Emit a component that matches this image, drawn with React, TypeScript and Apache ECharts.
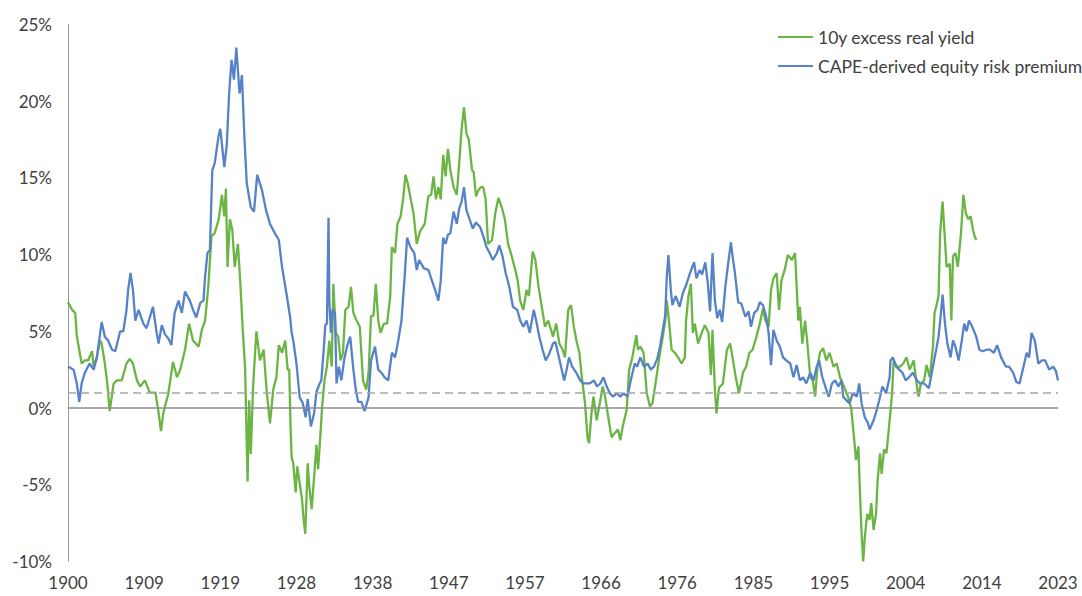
import React, { useEffect, useRef } from "react";
import * as echarts from "echarts";

const SERIES_NAMES = ["10y excess real yield", "CAPE-derived equity risk premium"];
const Y_TICKS = { min: -10, max: 25, step: 5 };
const X_RANGE = { min: 1900, max: 2023.5, step: 9.5 };
const REFERENCE_LEVELS = { zero: 0, dashed: 1 };

const excessRealYield: [number, number][] = [
  [1900.0, 6.9], [1900.5, 6.4], [1900.9, 6.2], [1901.1, 4.7], [1901.4, 3.8], [1901.7, 2.9], [1902.1, 3.1],
  [1902.5, 3.1], [1903.0, 3.7], [1903.2, 2.7], [1903.6, 3.3], [1904.0, 4.4], [1904.2, 4.2], [1904.6, 2.9],
  [1904.9, 1.6], [1905.2, -0.2], [1905.7, 1.6], [1906.1, 1.8], [1906.7, 1.8], [1907.3, 2.9], [1907.7, 3.2],
  [1908.1, 2.9], [1908.6, 1.8], [1909.0, 1.4], [1909.6, 1.8], [1910.2, 1.0], [1910.9, 1.0], [1911.3, -0.3],
  [1911.6, -1.5], [1911.9, -0.3], [1912.5, 0.9], [1913.1, 3.0], [1913.6, 2.0], [1914.0, 2.5], [1914.6, 3.8],
  [1915.1, 5.5], [1915.6, 4.4], [1916.3, 4.0], [1916.7, 5.1], [1917.1, 5.7], [1917.5, 7.9], [1917.9, 11.2],
  [1918.3, 11.4], [1918.8, 12.3], [1919.2, 13.9], [1919.5, 12.5], [1919.7, 14.3], [1919.9, 9.2], [1920.2, 12.3],
  [1920.5, 11.6], [1920.8, 9.2], [1921.2, 10.7], [1921.5, 8.1], [1921.8, 5.1], [1922.1, 2.5], [1922.4, -4.8],
  [1922.6, 0.5], [1922.8, -3.0], [1923.1, 1.5], [1923.5, 5.0], [1923.95, 3.1], [1924.4, 3.8], [1924.8, 1.0],
  [1925.2, -1.0], [1925.6, 1.2], [1926.0, 2.0], [1926.3, 4.1], [1926.7, 3.6], [1927.1, 4.4], [1927.4, 2.5],
  [1927.6, 2.5], [1927.75, -1.0], [1927.9, -3.2], [1928.1, -3.6], [1928.4, -5.5], [1928.6, -3.8], [1929.2, -6.0],
  [1929.4, -7.3], [1929.6, -8.2], [1929.9, -3.6], [1930.1, -5.1], [1930.4, -6.6], [1930.7, -4.5], [1931.0, -2.4],
  [1931.2, -4.0], [1931.5, -1.65], [1931.7, 0.1], [1932.0, 1.8], [1932.3, 2.7], [1932.6, 4.4], [1932.9, 2.7],
  [1933.1, 8.1], [1933.4, 4.9], [1933.7, 4.65], [1934.0, 3.1], [1934.3, 3.6], [1934.6, 6.4], [1935.0, 6.6],
  [1935.3, 7.9], [1935.6, 6.2], [1936.0, 5.7], [1936.4, 5.3], [1936.8, 1.8], [1937.2, 1.2], [1937.5, 2.3],
  [1937.8, 6.0], [1938.1, 6.0], [1938.4, 8.1], [1938.7, 5.7], [1939.0, 4.9], [1939.4, 5.5], [1939.8, 5.5],
  [1940.2, 7.3], [1940.4, 10.5], [1940.8, 10.1], [1941.1, 12.0], [1941.5, 12.5], [1941.8, 13.6], [1942.1, 15.2],
  [1942.4, 14.6], [1942.8, 13.5], [1943.1, 12.7], [1943.5, 10.7], [1943.9, 11.5], [1944.5, 12.0], [1944.95, 13.8],
  [1945.3, 13.9], [1945.6, 15.1], [1945.9, 13.6], [1946.2, 14.4], [1946.5, 13.6], [1946.8, 16.5], [1947.1, 15.1],
  [1947.4, 16.9], [1947.7, 15.5], [1948.1, 14.4], [1948.5, 13.9], [1948.8, 15.95], [1949.1, 18.2], [1949.4, 19.6],
  [1949.7, 17.9], [1950.0, 17.5], [1950.4, 15.5], [1950.6, 15.4], [1950.9, 13.8], [1951.2, 14.2], [1951.5, 14.4],
  [1951.8, 14.4], [1952.1, 13.6], [1952.4, 10.7], [1952.9, 10.95], [1953.3, 12.7], [1953.7, 13.7], [1954.1, 13.1],
  [1954.5, 12.3], [1954.9, 10.7], [1955.35, 9.9], [1955.8, 9.0], [1956.1, 8.3], [1956.4, 7.0], [1956.8, 6.4],
  [1957.2, 7.7], [1957.5, 7.3], [1957.97, 10.2], [1958.3, 9.65], [1958.7, 7.9], [1959.1, 6.6], [1959.5, 5.3],
  [1959.9, 5.7], [1960.2, 5.2], [1960.5, 4.65], [1960.9, 5.5], [1961.3, 4.2], [1961.7, 3.8], [1962.0, 3.3],
  [1962.4, 6.4], [1962.75, 6.7], [1963.1, 5.3], [1963.5, 4.2], [1963.8, 3.6], [1964.1, 2.0], [1964.5, 0.3],
  [1964.8, -1.9], [1965.0, -2.3], [1965.3, -0.35], [1965.55, 0.74], [1965.95, -0.8], [1966.4, 0.5], [1966.7, 1.4],
  [1967.0, 0.74], [1967.4, -0.6], [1967.8, -1.9], [1968.2, -1.65], [1968.6, -1.4], [1968.9, -2.1], [1969.2, -1.2],
  [1969.7, -0.1], [1970.0, 2.5], [1970.4, 3.3], [1970.9, 4.75], [1971.1, 3.8], [1971.4, 4.0], [1971.8, 3.6],
  [1972.2, 0.96], [1972.6, 0.1], [1972.9, 0.3], [1973.35, 1.8], [1973.85, 3.6], [1974.2, 4.65], [1974.5, 5.7],
  [1974.7, 7.0], [1975.0, 5.5], [1975.3, 3.8], [1975.7, 3.6], [1976.1, 3.3], [1976.55, 2.9], [1976.95, 3.3],
  [1977.1, 5.7], [1977.4, 7.3], [1977.7, 8.1], [1977.95, 4.9], [1978.2, 5.5], [1978.6, 4.2], [1979.05, 4.9],
  [1979.45, 5.4], [1979.9, 4.9], [1980.2, 2.15], [1980.4, 5.1], [1980.7, 1.2], [1980.9, -0.35], [1981.2, 1.3],
  [1981.7, 1.6], [1982.2, 3.8], [1982.6, 4.2], [1982.9, 3.3], [1983.3, 2.0], [1983.7, 0.96], [1984.2, 2.3],
  [1984.6, 2.7], [1985.0, 3.6], [1985.4, 3.8], [1985.8, 4.5], [1986.3, 5.5], [1986.7, 6.5], [1987.0, 5.7],
  [1987.4, 5.3], [1987.7, 7.7], [1988.0, 8.45], [1988.4, 8.8], [1988.7, 6.4], [1989.0, 8.3], [1989.4, 9.0],
  [1989.8, 9.97], [1990.3, 9.65], [1990.7, 10.1], [1991.1, 5.7], [1991.3, 6.6], [1991.6, 4.2], [1991.95, 5.7],
  [1992.2, 4.4], [1992.6, 2.0], [1992.9, 1.8], [1993.2, 0.74], [1993.5, 2.7], [1993.8, 3.6], [1994.2, 3.9],
  [1994.6, 3.1], [1995.0, 3.6], [1995.5, 2.7], [1995.9, 2.9], [1996.3, 2.0], [1996.8, 1.4], [1997.3, 0.74],
  [1997.7, 0.0], [1998.05, -1.9], [1998.3, -3.4], [1998.6, -2.5], [1998.8, -5.6], [1999.0, -8.2], [1999.2, -10.0],
  [1999.4, -8.4], [1999.7, -6.9], [2000.0, -7.3], [2000.2, -6.2], [2000.5, -7.95], [2000.8, -6.9], [2001.0, -4.7],
  [2001.3, -2.95], [2001.5, -4.3], [2001.8, -2.7], [2002.1, -2.95], [2002.5, -0.8], [2002.8, 0.96], [2003.0, 3.1],
  [2003.4, 2.7], [2003.8, 2.7], [2004.2, 2.9], [2004.6, 3.3], [2005.0, 2.5], [2005.5, 3.1], [2005.9, 1.4],
  [2006.1, 0.74], [2006.4, 1.6], [2006.8, 1.8], [2007.1, 2.8], [2007.5, 2.0], [2007.9, 4.0], [2008.1, 6.2],
  [2008.3, 6.6], [2008.6, 7.3], [2008.8, 11.4], [2009.1, 13.45], [2009.4, 10.95], [2009.6, 9.2], [2010.0, 9.4],
  [2010.2, 5.7], [2010.4, 9.9], [2010.7, 10.1], [2011.0, 9.2], [2011.4, 11.4], [2011.7, 13.9], [2012.0, 12.7],
  [2012.3, 12.3], [2012.6, 12.5], [2012.9, 11.6], [2013.1, 11.2], [2013.3, 10.95],
];

const capeEquityRiskPremium: [number, number][] = [
  [1900.0, 2.7], [1900.7, 2.5], [1901.1, 1.6], [1901.4, 0.4], [1901.7, 1.6], [1902.1, 2.3], [1902.7, 2.9],
  [1903.2, 2.5], [1903.6, 3.3], [1904.2, 5.6], [1904.6, 4.65], [1905.0, 4.4], [1905.5, 3.8], [1905.9, 3.7],
  [1906.5, 5.0], [1906.9, 5.0], [1907.3, 6.4], [1907.5, 7.7], [1907.8, 8.8], [1908.1, 7.7], [1908.4, 5.7],
  [1908.8, 6.4], [1909.4, 5.5], [1909.8, 5.2], [1910.6, 6.6], [1911.0, 5.1], [1911.3, 4.2], [1911.7, 5.4],
  [1912.1, 4.8], [1912.5, 4.55], [1912.9, 4.1], [1913.3, 6.2], [1913.8, 7.0], [1914.2, 6.2], [1914.6, 7.6],
  [1915.2, 7.0], [1915.6, 6.4], [1916.0, 5.9], [1916.5, 6.85], [1916.9, 7.0], [1917.1, 8.56], [1917.4, 10.1],
  [1917.7, 10.3], [1918.0, 15.5], [1918.3, 15.95], [1918.8, 17.8], [1919.0, 18.2], [1919.5, 15.7], [1919.8, 17.1],
  [1920.1, 20.5], [1920.4, 22.7], [1920.7, 21.4], [1921.0, 23.5], [1921.4, 20.5], [1921.7, 21.7], [1922.0, 17.7],
  [1922.3, 14.65], [1922.8, 13.1], [1923.2, 12.8], [1923.6, 15.2], [1924.2, 14.2], [1924.7, 12.9], [1925.2, 12.0],
  [1925.8, 11.4], [1926.3, 10.95], [1926.7, 9.2], [1927.3, 7.3], [1927.7, 5.95], [1927.9, 4.9], [1928.1, 4.4],
  [1928.5, 2.9], [1928.9, 0.7], [1929.3, 0.3], [1929.65, -0.6], [1929.9, 0.6], [1930.3, -1.2], [1930.7, -0.35],
  [1931.0, 1.06], [1931.4, 1.6], [1931.6, 1.8], [1931.9, 3.8], [1932.1, 5.4], [1932.3, 5.5], [1932.5, 12.4],
  [1932.6, 7.0], [1932.8, 4.9], [1933.0, 6.4], [1933.3, 6.2], [1933.5, 1.6], [1933.8, 2.7], [1934.1, 1.8],
  [1934.5, 3.3], [1934.8, 4.0], [1935.2, 4.65], [1935.6, 2.5], [1935.9, 1.2], [1936.2, 0.4], [1936.6, 0.4],
  [1937.0, -0.2], [1937.5, 0.7], [1937.8, 3.1], [1938.3, 4.0], [1938.7, 2.5], [1939.1, 2.3], [1939.5, 2.0],
  [1939.95, 1.8], [1940.4, 3.6], [1940.8, 3.3], [1941.2, 4.4], [1941.6, 5.7], [1942.0, 8.6], [1942.3, 11.1],
  [1942.7, 10.5], [1943.2, 10.1], [1943.5, 9.0], [1943.8, 9.65], [1944.4, 9.1], [1944.95, 9.0], [1945.4, 8.3],
  [1945.8, 7.7], [1946.2, 7.0], [1946.5, 8.3], [1946.8, 11.1], [1947.1, 10.7], [1947.4, 11.3], [1947.7, 11.4],
  [1948.1, 12.8], [1948.5, 12.0], [1948.8, 13.0], [1949.1, 13.45], [1949.4, 14.4], [1949.7, 12.9], [1950.1, 12.3],
  [1950.5, 11.7], [1950.9, 12.1], [1951.4, 11.8], [1951.8, 11.2], [1952.2, 10.5], [1952.6, 10.1], [1953.0, 9.65],
  [1953.5, 10.1], [1953.8, 10.6], [1954.2, 9.9], [1954.6, 8.8], [1955.05, 7.9], [1955.5, 6.6], [1956.05, 6.4],
  [1956.4, 5.7], [1956.8, 5.3], [1957.2, 5.7], [1957.6, 4.9], [1958.1, 6.4], [1958.4, 5.7], [1958.8, 4.65],
  [1959.2, 3.8], [1959.6, 3.1], [1960.0, 3.5], [1960.5, 4.2], [1960.8, 4.3], [1961.2, 3.4], [1961.5, 2.7],
  [1961.9, 1.8], [1962.2, 2.5], [1962.5, 3.3], [1962.9, 2.7], [1963.4, 2.3], [1963.9, 1.8], [1964.3, 1.6],
  [1964.7, 1.6], [1965.1, 1.6], [1965.6, 1.8], [1966.0, 1.4], [1966.4, 1.6], [1966.8, 2.0], [1967.2, 1.4],
  [1967.6, 0.96], [1968.0, 0.74], [1968.45, 0.96], [1968.9, 0.74], [1969.3, 0.96], [1969.8, 0.74], [1970.2, 1.8],
  [1970.7, 2.9], [1971.0, 2.7], [1971.4, 3.3], [1971.85, 2.7], [1972.3, 2.9], [1972.7, 2.5], [1973.1, 2.7],
  [1973.5, 3.2], [1973.85, 4.0], [1974.2, 5.1], [1974.5, 6.0], [1974.7, 8.6], [1974.9, 9.97], [1975.2, 7.7],
  [1975.4, 6.7], [1975.8, 7.3], [1976.3, 6.6], [1976.7, 7.5], [1977.1, 8.0], [1977.6, 8.8], [1978.1, 9.5],
  [1978.4, 8.45], [1978.8, 9.0], [1979.1, 8.7], [1979.5, 9.5], [1979.8, 8.2], [1980.1, 6.3], [1980.4, 10.1],
  [1980.7, 7.0], [1981.0, 5.85], [1981.3, 6.4], [1981.6, 5.6], [1982.0, 7.9], [1982.3, 9.2], [1982.7, 10.8],
  [1982.9, 9.9], [1983.2, 8.8], [1983.6, 6.9], [1984.0, 6.8], [1984.5, 5.95], [1984.9, 6.3], [1985.2, 5.3],
  [1985.6, 6.2], [1986.0, 6.4], [1986.3, 6.9], [1986.7, 6.7], [1987.1, 5.95], [1987.4, 4.9], [1987.7, 2.8],
  [1988.0, 5.1], [1988.4, 4.4], [1988.8, 4.0], [1989.2, 3.3], [1989.6, 3.1], [1990.1, 2.9], [1990.5, 2.0],
  [1990.9, 2.8], [1991.3, 1.8], [1991.7, 2.0], [1992.1, 1.6], [1992.6, 2.3], [1993.0, 1.8], [1993.4, 2.7],
  [1993.7, 3.1], [1994.1, 2.0], [1994.6, 1.2], [1994.9, 0.74], [1995.3, 1.6], [1995.7, 1.8], [1996.1, 1.4],
  [1996.5, 1.8], [1996.7, 0.74], [1997.1, 0.5], [1997.5, 0.3], [1997.9, 0.96], [1998.4, 0.74], [1998.7, 1.6],
  [1999.0, 0.3], [1999.4, -0.6], [1999.8, -1.0], [2000.0, -1.4], [2000.5, -0.8], [2000.9, -0.1], [2001.2, 0.5],
  [2001.6, 1.4], [2002.05, 0.96], [2002.5, 2.0], [2002.6, 3.1], [2002.9, 3.3], [2003.3, 2.7], [2003.7, 2.5],
  [2004.1, 2.3], [2004.5, 1.8], [2004.9, 2.0], [2005.4, 2.3], [2005.9, 1.8], [2006.3, 1.6], [2006.8, 1.6],
  [2007.4, 1.3], [2007.9, 2.7], [2008.3, 3.8], [2008.6, 4.65], [2008.9, 6.2], [2009.1, 7.4], [2009.4, 5.5],
  [2009.7, 4.2], [2010.1, 3.3], [2010.4, 4.4], [2010.7, 4.0], [2011.1, 3.1], [2011.5, 4.4], [2011.8, 5.5],
  [2012.1, 5.0], [2012.4, 5.7], [2012.8, 5.3], [2013.3, 4.65], [2013.7, 3.8], [2014.1, 3.7], [2014.6, 3.8],
  [2015.0, 3.8], [2015.5, 3.6], [2015.9, 4.1], [2016.4, 3.3], [2017.0, 2.7], [2017.4, 2.7], [2017.9, 2.3],
  [2018.3, 1.7], [2018.7, 1.6], [2019.2, 2.7], [2019.6, 3.6], [2019.9, 3.3], [2020.2, 4.9], [2020.6, 4.4],
  [2021.05, 2.9], [2021.5, 3.1], [2021.9, 3.1], [2022.4, 2.5], [2022.9, 2.7], [2023.25, 2.4], [2023.5, 1.8],
];

const GREEN = "#6AB544";
const BLUE = "#5682C7";
const TEXT = "#404040";
const FONT = "Lato, 'Noto Sans', sans-serif";

export default function App() {
  const ref = useRef<HTMLDivElement>(null);

  useEffect(() => {
    if (!ref.current) return;
    const chart = echarts.init(ref.current, undefined, { renderer: "svg" });
    chart.setOption({
      animation: false,
      backgroundColor: "#ffffff",
      textStyle: { fontFamily: FONT },
      grid: { left: 68, right: 24, top: 24.5, bottom: 34.6, containLabel: false },
      legend: {
        data: SERIES_NAMES,
        orient: "vertical",
        left: 778,
        top: 28,
        padding: 0,
        itemWidth: 35,
        itemHeight: 14,
        itemGap: 11,
        icon: "path://M0,6 L35,6 L35,8 L0,8 Z",
        textStyle: { color: TEXT, fontSize: 17.5, fontFamily: FONT },
      },
      xAxis: {
        type: "value",
        min: X_RANGE.min,
        max: X_RANGE.max,
        interval: X_RANGE.step,
        axisLine: { show: false },
        axisTick: { show: false },
        splitLine: { show: false },
        axisLabel: {
          color: TEXT,
          fontSize: 17,
          fontFamily: FONT,
          margin: 13,
          formatter: (v: number) => String(Math.floor(v)),
        },
      },
      yAxis: {
        type: "value",
        min: Y_TICKS.min,
        max: Y_TICKS.max,
        interval: Y_TICKS.step,
        axisLine: { show: true, lineStyle: { color: "#9a9a9a", width: 1 } },
        axisTick: { show: false },
        splitLine: { show: false },
        axisLabel: {
          color: TEXT,
          fontSize: 17,
          fontFamily: FONT,
          margin: 16,
          formatter: (v: number) => `${v}%`,
        },
      },
      series: [
        {
          name: "refs",
          type: "line",
          data: [],
          silent: true,
          z: 1,
          markLine: {
            silent: true,
            symbol: "none",
            label: { show: false },
            data: [
              { yAxis: REFERENCE_LEVELS.zero, lineStyle: { color: "#8c8c8c", width: 1.5, type: "solid" } },
              { yAxis: REFERENCE_LEVELS.dashed, lineStyle: { color: "#a6a6a6", width: 1.5, type: [8, 5] } },
            ],
          },
        },
        {
          name: SERIES_NAMES[0],
          type: "line",
          data: excessRealYield,
          showSymbol: false,
          symbol: "none",
          z: 2,
          lineStyle: { color: GREEN, width: 2.3 },
          itemStyle: { color: GREEN },
        },
        {
          name: SERIES_NAMES[1],
          type: "line",
          data: capeEquityRiskPremium,
          showSymbol: false,
          symbol: "none",
          z: 3,
          lineStyle: { color: BLUE, width: 2.3 },
          itemStyle: { color: BLUE },
        },
      ],
    });
    return () => chart.dispose();
  }, []);

  return (
    <div
      ref={ref}
      style={{ position: "fixed", left: 0, top: 0, width: 1082, height: 596, background: "#fff" }}
    />
  );
}
